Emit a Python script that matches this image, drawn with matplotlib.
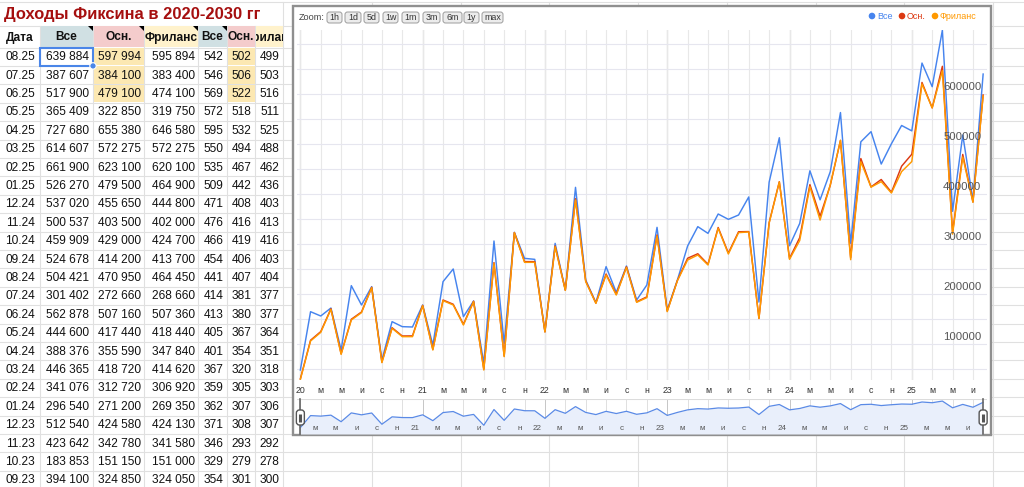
import numpy as np
import matplotlib
matplotlib.use("Agg")
import matplotlib.pyplot as plt
import matplotlib.transforms as mtrans
from matplotlib.patches import Rectangle, FancyBboxPatch, Polygon, Circle
from matplotlib import font_manager as fm

# ---------------- data ----------------
# spreadsheet table (newest first)
table_dates = ["08.25", "07.25", "06.25", "05.25", "04.25", "03.25", "02.25", "01.25",
               "12.24", "11.24", "10.24", "09.24", "08.24", "07.24", "06.24", "05.24",
               "04.24", "03.24", "02.24", "01.24", "12.23", "11.23", "10.23", "09.23"]
table_all = [639884, 387607, 517900, 365409, 727680, 614607, 661900, 526270,
             537020, 500537, 459909, 524678, 504421, 301402, 562878, 444600,
             388376, 446365, 341076, 296540, 512540, 423642, 183853, 394100]
table_main = [597994, 384100, 479100, 322850, 655380, 572275, 623100, 479500,
              455650, 403500, 429000, 414200, 470950, 272660, 507160, 417440,
              355590, 418720, 312720, 271200, 424580, 342780, 151150, 324850]
table_free = [595894, 383400, 474100, 319750, 646580, 572275, 620100, 464900,
              444800, 402000, 424700, 413700, 464450, 268660, 507360, 418440,
              347840, 414620, 306920, 269350, 424130, 341580, 151000, 324050]
table_all2 = [542, 546, 569, 572, 595, 550, 535, 509, 471, 476, 466, 454,
              441, 414, 413, 405, 401, 367, 359, 362, 371, 346, 329, 354]
table_main2 = [502, 506, 522, 518, 532, 494, 467, 442, 408, 416, 419, 406,
               407, 381, 380, 367, 354, 320, 305, 307, 308, 293, 279, 301]
table_free2 = [499, 503, 516, 511, 525, 488, 462, 436, 403, 413, 416, 403,
               404, 377, 377, 364, 351, 318, 303, 306, 307, 292, 278, 300]

# chart values, 01.2020 .. 08.2023 (oldest first)
early_all = [48000, 164600, 156000, 172000, 88000, 216700, 178000, 214700, 68000, 144700,
             134700, 134000, 178000, 98000, 224700, 250000, 154700, 186000, 61300, 306000,
             101300, 323300, 271300, 269300, 124700, 301300, 208000, 413300, 228000, 182700,
             254700, 203300, 256000, 188000, 218000, 333300, 168000, 228000, 296000, 334700,
             321300, 360000, 349300, 358000]
early_main = [30500, 107500, 124800, 170500, 80500, 149500, 164000, 213500, 63800, 132600,
              116000, 116200, 177300, 89200, 188000, 179500, 139400, 185600, 49300, 262800,
              75900, 323000, 264800, 264700, 124400, 296100, 207700, 390500, 226000, 182000,
              240000, 199400, 254500, 184500, 194300, 318000, 166000, 227300, 271500, 280500,
              259500, 333000, 282000, 324500]
early_free = [29300, 106000, 123300, 169300, 79300, 148000, 162700, 212700, 62700, 131300,
              114700, 114700, 176700, 88000, 186700, 178000, 138000, 184700, 48000, 261300,
              74700, 322700, 263300, 263300, 124000, 294700, 207300, 388000, 224700, 181300,
              238000, 198000, 253300, 183300, 192700, 316000, 164700, 226700, 268000, 278000,
              258000, 331300, 280000, 322700]

first_year = 20
month_letters = ["м", "м", "и", "с", "н"]   # Mar, May, Jul, Sep, Nov
series_names = ["Все", "Осн.", "Фриланс"]
series_colors = ["#4684ee", "#dc3912", "#ff9900"]
headers = ["Дата", "Все", "Осн.", "Фриланс", "Все", "Осн.", "Фриланс"]
title = "Доходы Фиксина в 2020-2030 гг"
zoom_buttons = ["1h", "1d", "5d", "1w", "1m", "3m", "6m", "1y", "max"]

# ---------------- fonts ----------------
names = {f.name for f in fm.fontManager.ttflist}
if "Liberation Sans Narrow" in names:
    TFONT = ["Liberation Sans Narrow", "DejaVu Sans"]
    TSIZE = 10.0
else:
    TFONT = ["Liberation Sans", "DejaVu Sans"]
    TSIZE = 8.6
CFONT = ["Liberation Sans", "DejaVu Sans"]

W, H = 1024, 487
fig = plt.figure(figsize=(W / 100, H / 100), dpi=100)
fig.patch.set_facecolor("white")

bg = fig.add_axes([0, 0, 1, 1])
bg.set_xlim(0, W)
bg.set_ylim(H, 0)
bg.axis("off")


def px_axes(x0, y0, x1, y1):
    return fig.add_axes([x0 / W, 1 - y1 / H, (x1 - x0) / W, (y1 - y0) / H])


# ---------------- spreadsheet ----------------
grid_c = "#e0e0e0"
col_edges = [0, 40, 93, 144, 198, 227, 255, 283]
extra_cols = [283, 372, 461, 549, 638, 727, 816, 904, 993]
row_top0 = 47.5
row_h = 18.4
hdr_top = 25.5

# horizontal lines
bg.plot([0, W], [2, 2], color=grid_c, lw=0.8, zorder=1)
bg.plot([0, W], [hdr_top, hdr_top], color=grid_c, lw=0.8, zorder=1)
k = 0
while row_top0 + row_h * k < H:
    y = row_top0 + row_h * k
    bg.plot([0, W], [y, y], color=grid_c, lw=0.8, zorder=1)
    k += 1
# vertical lines
for x in col_edges[1:-1]:
    bg.plot([x, x], [hdr_top, H], color=grid_c, lw=0.8, zorder=1)
for x in extra_cols:
    bg.plot([x, x], [2, H], color=grid_c, lw=0.8, zorder=1)

hdr_colors = [None, "#d0e0e3", "#f4cccc", "#fff2cc", "#d0e0e3", "#f4cccc", "#fff2cc"]
for c, colr in enumerate(hdr_colors):
    if colr:
        bg.add_patch(Rectangle((col_edges[c] + 0.5, hdr_top + 0.5),
                               col_edges[c + 1] - col_edges[c] - 1, row_top0 - hdr_top - 1,
                               facecolor=colr, edgecolor="none", zorder=2))
for c in (2, 5):
    for r in range(3):
        bg.add_patch(Rectangle((col_edges[c] + 0.5, row_top0 + r * row_h + 0.5),
                               col_edges[c + 1] - col_edges[c] - 1, row_h - 1,
                               facecolor="#fce8b2", edgecolor="none", zorder=2))

# title
bg.text(4, 14, title, family=CFONT, fontsize=11.9, fontweight="bold",
        color="#a50f0f", ha="left", va="center", zorder=4)

# headers
hdr_cy = (hdr_top + row_top0) / 2 + 1
for c, h in enumerate(headers):
    cx = (col_edges[c] + col_edges[c + 1]) / 2
    t = bg.text(cx, hdr_cy, h, family=TFONT, fontsize=TSIZE, fontweight="bold",
                color="#111111", ha="center", va="center", zorder=4)
    cb = mtrans.TransformedBbox(
        mtrans.Bbox.from_extents(col_edges[c] + 0.5, hdr_top, col_edges[c + 1] - 0.5, row_top0),
        bg.transData)
    t.set_clip_box(cb)
    t.set_clip_on(True)
# comment triangles
for x in (93, 144, 198, 227):
    bg.add_patch(Polygon([(x - 5, hdr_top), (x, hdr_top), (x, hdr_top + 5)],
                         closed=True, facecolor="black", edgecolor="none", zorder=4))


def fmt(v):
    return f"{v:,}".replace(",", " ")


cols_data = [table_all, table_main, table_free, table_all2, table_main2, table_free2]
for r, d in enumerate(table_dates):
    cy = row_top0 + row_h * r + row_h / 2 + 0.5
    bg.text((col_edges[0] + col_edges[1]) / 2, cy, d, family=TFONT, fontsize=TSIZE,
            color="#111111", ha="center", va="center", zorder=4)
    for c, arr in enumerate(cols_data):
        bg.text(col_edges[c + 2] - 3.5, cy, fmt(arr[r]), family=TFONT, fontsize=TSIZE,
                color="#111111", ha="right", va="center", zorder=4)

# selected cell
bg.add_patch(Rectangle((40, row_top0), 53, row_h, facecolor="none",
                       edgecolor="#4a86e8", lw=1.5, zorder=6))
bg.add_patch(Circle((93, row_top0 + row_h), 3.2, facecolor="#4a86e8",
                    edgecolor="white", lw=0.8, zorder=7))

# ---------------- chart frame ----------------
bg.add_patch(Rectangle((293, 5.5), 697.5, 429.5, facecolor="white",
                       edgecolor="#8f8f8f", lw=1.7, zorder=8))

bg.text(299, 17.5, "Zoom:", family=CFONT, fontsize=6.6, color="#444444",
        ha="left", va="center", zorder=9)
btn_x = [327, 345, 364, 383, 402, 423, 443, 464, 482]
btn_w = [15, 16, 15, 15, 17, 17, 19, 15, 21]
for b, x, w in zip(zoom_buttons, btn_x, btn_w):
    bg.add_patch(FancyBboxPatch((x, 12), w, 11, boxstyle="round,pad=0,rounding_size=2.5",
                                facecolor="#ececec", edgecolor="#9c9c9c", lw=0.7, zorder=9))
    bg.text(x + w / 2, 17.8, b, family=CFONT, fontsize=6.4, color="#333333",
            ha="center", va="center", zorder=10)

# legend
leg_x = [872, 902, 935]
for name, colr, x in zip(series_names, series_colors, leg_x):
    bg.add_patch(Circle((x, 16), 3.3, facecolor=colr, edgecolor="none", zorder=9))
    bg.text(x + 5, 16.5, name, family=CFONT, fontsize=6.5, color=colr,
            ha="left", va="center", zorder=9)

# ---------------- main chart ----------------
vals_all = np.array(early_all + table_all[::-1])
vals_main = np.array(early_main + table_main[::-1])
vals_free = np.array(early_free + table_free[::-1])
n = len(vals_all)
months = np.arange(n)

tick_pos = list(range(0, n, 2))
tick_lab = []
for i in tick_pos:
    m = i % 12
    if m == 0:
        tick_lab.append(str(first_year + i // 12))
    else:
        tick_lab.append(month_letters[m // 2 - 1])
year_pos = [i for i in tick_pos if i % 12 == 0]

xl = (-0.33, n - 1 + 0.33)
ax = px_axes(297, 30, 986.5, 380)
ax.set_facecolor("none")
for s in ax.spines.values():
    s.set_visible(False)
ax.set_xlim(*xl)
ax.set_ylim(28000, 728000)
ax.set_yticks(np.arange(50000, 728000, 50000))
ax.set_xticks(tick_pos)
ax.set_xticklabels(tick_lab, family=CFONT, fontsize=6.3, color="#333333")
ax.tick_params(length=0, labelleft=False, pad=4)
ax.grid(axis="y", color="#e6e6ef", lw=0.8)
ax.grid(axis="x", color="#e8e8e8", lw=0.8)
for i in year_pos:
    ax.axvline(i, color="#cdcdcd", lw=0.9, zorder=0.5)
ax.plot(months, vals_all, color=series_colors[0], lw=1.05, zorder=3)
ax.plot(months, vals_main, color=series_colors[1], lw=1.05, zorder=3)
ax.plot(months, vals_free, color=series_colors[2], lw=1.05, zorder=4)
lab_tr = mtrans.offset_copy(mtrans.blended_transform_factory(ax.transAxes, ax.transData),
                            fig=fig, x=0, y=4, units="dots")
for v in range(100000, 700000, 100000):
    ax.text(0.9925, v, str(v), transform=lab_tr, family=CFONT, fontsize=8.2,
            color="#555555", ha="right", va="baseline", zorder=5)

# ---------------- navigator ----------------
nav = px_axes(297, 399, 986.5, 434)
nav.set_facecolor("none")
for s in nav.spines.values():
    s.set_visible(False)
nav.set_yscale("log")
nav.set_xlim(*xl)
nav.set_ylim(25000, 900000)
nav.set_xticks([])
nav.set_yticks([])
nav.yaxis.set_minor_locator(matplotlib.ticker.NullLocator())
for i in tick_pos:
    nav.axvline(i, color="#c6c6c6" if i % 12 == 0 else "#e0e0e0", lw=0.7, zorder=0.5)
nav.fill_between(months, vals_all, 25000, color="#e9effb", lw=0, zorder=1)
nav.plot(months, vals_all, color="#5a8ae6", lw=0.9, zorder=2)
nav.axhline(900000, color="#dcdcdc", lw=0.8)
ntr = mtrans.blended_transform_factory(nav.transData, nav.transAxes)
for i, lab in zip(tick_pos, tick_lab):
    if i == 0:
        continue
    nav.text(i - 0.3, 0.16, lab, transform=ntr, family=CFONT, fontsize=5.8,
             color="#555555", ha="right", va="center", zorder=3)

# handles (overlay)
ov = fig.add_axes([0, 0, 1, 1])
ov.set_xlim(0, W)
ov.set_ylim(H, 0)
ov.axis("off")
ov.set_facecolor("none")
for i in (0, n - 1):
    xd = nav.transData.transform((i, 100000))[0]
    hx = xd * W / fig.bbox.width
    ov.plot([hx, hx], [399, 434], color="#666666", lw=1.2)
    ov.add_patch(FancyBboxPatch((hx - 4, 410), 8, 15, boxstyle="round,pad=0,rounding_size=3",
                                facecolor="white", edgecolor="#555555", lw=1.0, zorder=3))
    ov.plot([hx, hx], [413.5, 421.5], color="#555555", lw=2.2, zorder=4,
            solid_capstyle="butt")

fig.savefig("out.png", dpi=100, facecolor="white")
